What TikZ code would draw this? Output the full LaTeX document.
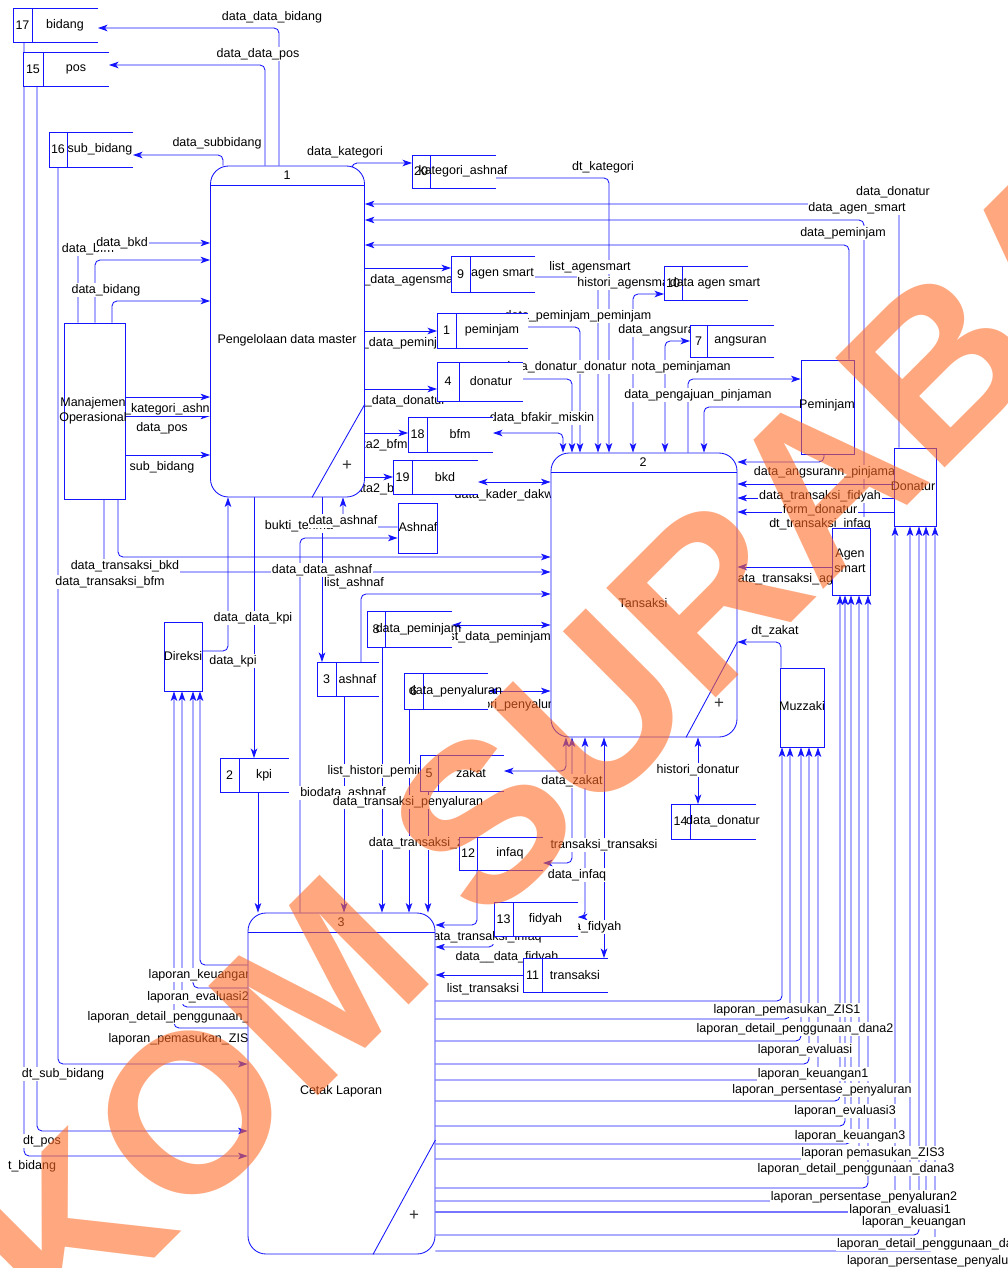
\documentclass[tikz,border=0pt]{standalone}
\usepackage{fontspec}
\setmainfont{Liberation Sans}
\usetikzlibrary{arrows.meta,calc}
\definecolor{lnblue}{RGB}{20,20,255}
\definecolor{wmc}{RGB}{255,105,35}
\newcommand\lblfont{\fontsize{12.5}{15.5}\selectfont}
\newcommand\wmfont{\fontsize{225}{225}\selectfont\bfseries}
\tikzset{
  >={Stealth[length=9.5pt,width=6.5pt,inset=2.5pt]},
  ln/.style={draw=lnblue, line width=0.85pt},
  fl/.style={ln, rounded corners=5pt, ->},
  bfl/.style={ln, rounded corners=5pt, <->},
  lbl/.style={fill=white, inner sep=0.8pt, font=\lblfont, text=black},
  txt/.style={inner sep=0pt, font=\lblfont, text=black, align=center},
  proc/.style={draw=lnblue, line width=0.85pt, fill=white, rounded corners=18pt, inner sep=0pt},
  ent/.style={draw=lnblue, line width=0.85pt, fill=white, inner sep=0pt},
  sbox/.style={fill=white, inner sep=0pt, outer sep=0pt},
  plus/.style={inner sep=0pt, font=\fontsize{17}{17}\selectfont, text=black!80},
  wmk/.style={inner sep=0pt, font=\wmfont, text=wmc, opacity=0.58}
}
\newcommand\mkstore[8]{%
  \node[sbox, minimum width={#3-#2}, minimum height={#6-#5}] (#1) at ({(#2+#3)/2},{(#5+#6)/2}) {};
  \draw[ln] (#1.north east) -- (#1.north west) -- (#1.south west) -- (#1.south east);
  \draw[ln] (#1.north -| #4,0) -- (#1.south -| #4,0);
  \node[txt] (#1n) at ({(#2+#4)/2},{(#5+#6)/2}) {#7};
  \node[txt] (#1t) at ({(#4+#3)/2},{(#5+#6)/2}) {#8};
}
\begin{document}
\begin{tikzpicture}[x=1pt,y=-1pt]
\useasboundingbox (0,0) rectangle (1008,1268);
\fill[white] (0,0) rectangle (1008,1268);

% ---------- shapes (positions only, drawn later) ----------
\begin{scope}[opacity=0]
\node[proc, minimum width=154, minimum height=331] (p1) at (287.5,331.5) {};
\node[proc, minimum width=186, minimum height=284] (p2) at (644,595) {};
\node[proc, minimum width=187, minimum height=341] (p3) at (341.5,1083.5) {};
\node[ent, minimum width=61, minimum height=176] (mo) at (94.5,411) {};
\node[ent, minimum width=53, minimum height=94] (pem) at (827.5,407) {};
\node[ent, minimum width=42, minimum height=78] (don) at (915,487) {};
\node[ent, minimum width=38, minimum height=67] (agen) at (851,561.5) {};
\node[ent, minimum width=44, minimum height=79] (muz) at (802,707.5) {};
\node[ent, minimum width=39, minimum height=50] (ash) at (417.5,528) {};
\node[ent, minimum width=38, minimum height=69] (dir) at (183,656.5) {};
\foreach \n/\a/\b/\c/\d in {s17/13/98/8/42, s15/23/109/52/86, s16/49/133/132/167, s20/412/496/155/188,
  s9/451/535/256/292, s10/664/748/266/300, s1/437/528/313/348, s7/690/774/325/357, s4/437/523/362/401,
  s18/408/493/417/452, s19/393/478/460/494, s8/367/452/611/647, s3/317/379/662/696, s6/404/488/673/709,
  s5/420/504/755/791, s2/220/289/758/792, s12/459/543/837/870, s13/494/578/902/936, s11/523/608/958/992,
  s14/671/756/804/839}
  {\node[sbox, minimum width={\b-\a}, minimum height={\d-\c}] (\n) at ({(\a+\b)/2},{(\c+\d)/2}) {};}
\end{scope}

% ---------- connectors ----------
\draw[fl] (p1.north -| 279,0) |- (s17.east |- 0,28);
\draw[fl] (p1.north -| 265,0) |- (s15.east |- 0,65);
\draw[fl] (p1.north -| 223,0) |- (s16.east |- 0,155);
\draw[fl] (p1.north -| 352,0) |- (s20.west |- 0,163);
\draw[fl] (s20.east |- 0,178) -| (p2.north -| 609,0);

\draw[fl] (don.north -| 899,0) |- (p1.east |- 0,204);
\draw[fl] (agen.north -| 864,0) |- (p1.east |- 0,220);
\draw[fl] (pem.north -| 849,0) |- (p1.east |- 0,245);

\draw[fl] (mo.north -| 78,0) |- (p1.west |- 0,243);
\draw[fl] (mo.north -| 95,0) |- (p1.west |- 0,260);
\draw[fl] (mo.north -| 112,0) |- (p1.west |- 0,301);
\draw[fl] (mo.east |- 0,397) -- (p1.west |- 0,397);
\draw[fl] (mo.east |- 0,416) -- (p1.west |- 0,416);
\draw[fl] (mo.east |- 0,455) -- (p1.west |- 0,455);
\draw[fl] (mo.south -| 118,0) |- (p2.west |- 0,557);
\draw[fl] (mo.south -| 104,0) |- (p2.west |- 0,572);

\draw[fl] (p1.east |- 0,268) -- (s9.west |- 0,268);
\draw[fl] (p1.east |- 0,331) -- (s1.west |- 0,331);
\draw[fl] (p1.east |- 0,389) -- (s4.west |- 0,389);
\draw[fl] (p1.east |- 0,433) -- (s18.west |- 0,433);
\draw[fl] (p1.east |- 0,477) -- (s19.west |- 0,477);

\draw[bfl] (s18.east |- 0,433) -| (p2.north -| 563,0);
\draw[fl] (s4.east |- 0,379) -| (p2.north -| 572,0);
\draw[fl] (s1.east |- 0,327) -| (p2.north -| 580,0);
\draw[fl] (s9.east |- 0,277) -| (p2.north -| 598,0);
\draw[bfl] (p2.north -| 633,0) |- (s10.west |- 0,294);
\draw[bfl] (p2.north -| 665,0) |- (s7.west |- 0,341);
\draw[fl] (p2.north -| 688,0) |- (pem.west |- 0,379);
\draw[fl] (pem.west |- 0,407) -| (p2.north -| 704,0);

\draw[fl] (pem.south -| 824,0) |- (p2.east |- 0,462);
\draw[fl] (don.west |- 0,484) -- (p2.east |- 0,484);
\draw[fl] (don.west |- 0,498) -- (p2.east |- 0,498);
\draw[fl] (don.west |- 0,512) -- (p2.east |- 0,512);
\draw[fl] (agen.west |- 0,567) -- (p2.east |- 0,567);
\draw[fl] (muz.north -| 781,0) |- (p2.east |- 0,642);

\draw[bfl] (s19.east |- 0,482) -- (p2.west |- 0,482);
\draw[fl] (s3.north -| 361,0) |- (p2.west |- 0,594);
\draw[bfl] (s8.east |- 0,625) -- (p2.west |- 0,625);
\draw[bfl] (s6.east |- 0,691) -- (p2.west |- 0,691);

\draw[bfl] (p2.south -| 566,0) |- (s5.east |- 0,771);
\draw[bfl] (p2.south -| 572,0) |- (s12.east |- 0,863);
\draw[bfl] (p2.south -| 585,0) |- (s13.east |- 0,917);
\draw[bfl] (s11.north -| 604,0) -- (p2.south -| 604,0);
\draw[bfl] (p2.south -| 698,0) -- (s14.north -| 698,0);

\draw[fl] (dir.east |- 0,651) -| (p1.south -| 228,0);
\draw[fl] (p1.south -| 254,0) -- (s2.north -| 254,0);
\draw[fl] (p1.south -| 322,0) -- (s3.north -| 322,0);
\draw[fl] (ash.west |- 0,527) -| (p1.south -| 343,0);
\draw[fl] (p3.north -| 300,0) |- (ash.west |- 0,538);

\draw[fl] (s2.south -| 258,0) -- (p3.north -| 258,0);
\draw[fl] (s3.south -| 344,0) -- (p3.north -| 344,0);
\draw[fl] (s8.south -| 382,0) -- (p3.north -| 382,0);
\draw[fl] (s6.south -| 409,0) -- (p3.north -| 409,0);
\draw[fl] (s5.south -| 428,0) -- (p3.north -| 428,0);

\draw[fl] (s12.south -| 477,0) |- (p3.east |- 0,925);
\draw[fl] (s13.south west) |- (p3.east |- 0,947);
\draw[fl] (s11.west) -- (p3.east |- s11.west);

\draw[fl] (s16.south -| 58,0) |- (p3.west |- 0,1064);
\draw[fl] (s15.south -| 37,0) |- (p3.west |- 0,1131);
\draw[fl] (s17.south -| 24,0) |- (p3.west |- 0,1156);
\draw[fl] (p3.west |- 0,965) -| (dir.south -| 200,0);
\draw[fl] (p3.west |- 0,988) -| (dir.south -| 193,0);
\draw[fl] (p3.west |- 0,1007) -| (dir.south -| 182,0);
\draw[fl] (p3.west |- 0,1028) -| (dir.south -| 174,0);

\foreach \yy/\xx/\ee in {1001/782/muz,1019/790/muz,1041/801/muz,1064/809/muz,1080/818/muz,
   1101/840/agen,1126/845/agen,1144/851/agen,1159/859/agen,1188/868/agen,
   1201/895/don,1212/910/don,1212/926/don,1235/919/don,1251/935/don}
  \draw[fl] (p3.east |- 0,\yy) -| (\ee.south -| \xx,0);

% ---------- labels ----------
\node[lbl] (L1) at (272,17) {data\_data\_bidang};
\node[lbl] (L2) at (258,54) {data\_data\_pos};
\node[lbl] (L3) at (217,143) {data\_subbidang};
\node[lbl] (L4) at (345,152) {data\_kategori};
\node[lbl] (L5) at (603,167) {dt\_kategori};
\node[lbl] (L6) at (893,192) {data\_donatur};
\node[lbl] (L7) at (857,208) {data\_agen\_smart};
\node[lbl] (L8) at (843,233) {data\_peminjam};
\node[lbl] (L9) at (88,249) {data\_bfm};
\node[lbl] (L10) at (122,243) {data\_bkd};
\node[lbl] (L11) at (106,290) {data\_bidang};
\node[lbl] (L12) at (160,409) {data\_kategori\_ashnaf};
\node[lbl] (L13) at (162,428) {data\_pos};
\node[lbl] (L14) at (162,467) {sub\_bidang};
\node[lbl] (L15) at (400,280) {data\_data\_agensmart};
\node[lbl] (L16) at (396,343) {data\_data\_peminjam};
\node[lbl] (L17) at (393,401) {data\_data\_donatur};
\node[lbl] (L18) at (378,445) {data2\_bfm};
\node[lbl] (L19) at (378,489) {data2\_bkd};
\node[lbl] (L20) at (542,418) {data\_bfakir\_miskin};
\node[lbl] (L21) at (565,367) {data\_donatur\_donatur};
\node[lbl] (L22) at (578,316) {data\_peminjam\_peminjam};
\node[lbl] (L23) at (590,267) {list\_agensmart};
\node[lbl] (L24) at (627,283) {histori\_agensmart};
\node[lbl] (L25) at (660,330) {data\_angsuran};
\node[lbl] (L26) at (681,367) {nota\_peminjaman};
\node[lbl] (L27) at (698,395) {data\_pengajuan\_pinjaman};
\node[lbl] (L28) at (511,495) {data\_kader\_dakwah};
\node[lbl] (L29) at (299,526) {bukti\_terima};
\node[lbl] (L30) at (343,521) {data\_ashnaf};
\node[lbl] (L31) at (125,566) {data\_transaksi\_bkd};
\node[lbl] (L32) at (322,570) {data\_data\_ashnaf};
\node[lbl] (L33) at (110,582) {data\_transaksi\_bfm};
\node[lbl] (L34) at (354,583) {list\_ashnaf};
\node[lbl] (L35) at (253,618) {data\_data\_kpi};
\node[lbl] (L36) at (233,661) {data\_kpi};
\node[lbl] (L37) at (497,637) {list\_data\_peminjam};
\node[lbl] (L38) at (515,705) {histori\_penyaluran};
\node[lbl] (L39) at (386,771) {list\_histori\_peminjam};
\node[lbl] (L40) at (343,793) {biodata\_ashnaf};
\node[lbl] (L41) at (408,802) {data\_transaksi\_penyaluran};
\node[lbl] (L42) at (428,843) {data\_transaksi\_zakat};
\node[lbl] (L43) at (572,781) {data\_zakat};
\node[lbl] (L44) at (604,845) {transaksi\_transaksi};
\node[lbl] (L45) at (577,875) {data\_infaq};
\node[lbl] (L46) at (589,927) {data\_fidyah};
\node[lbl] (L47) at (484,937) {data\_transaksi\_infaq};
\node[lbl] (L48) at (507,957) {data\_\_data\_fidyah};
\node[lbl] (L49) at (483,989) {list\_transaksi};
\node[lbl] (L50) at (698,770) {histori\_donatur};
\node[lbl] (L51) at (775,631) {dt\_zakat};
\node[lbl] (L52) at (789,579) {data\_transaksi\_agen};
\node[lbl] (L53) at (828,472) {data\_angsurann\_pinjaman};
\node[lbl] (L54) at (820,496) {data\_transaksi\_fidyah};
\node[lbl] (L55) at (820,510) {form\_donatur};
\node[lbl] (L56) at (820,524) {dt\_transaksi\_infaq};
\node[lbl] (L57) at (204,975) {laporan\_keuangan2};
\node[lbl] (L58) at (198,997) {laporan\_evaluasi2};
\node[lbl] (L59) at (186,1017) {laporan\_detail\_penggunaan\_dana1};
\node[lbl] (L60) at (182,1039) {laporan\_pemasukan\_ZIS2};
\node[lbl] (L61) at (63,1074) {dt\_sub\_bidang};
\node[lbl] (L62) at (42,1141) {dt\_pos};
\node[lbl, anchor=east] (L63) at (57,1166) {t\_bidang};
\node[lbl] (L64) at (787,1010) {laporan\_pemasukan\_ZIS1};
\node[lbl] (L65) at (795,1029) {laporan\_detail\_penggunaan\_dana2};
\node[lbl] (L66) at (805,1050) {laporan\_evaluasi};
\node[lbl] (L67) at (813,1074) {laporan\_keuangan1};
\node[lbl] (L68) at (822,1090) {laporan\_persentase\_penyaluran};
\node[lbl] (L69) at (845,1111) {laporan\_evaluasi3};
\node[lbl] (L70) at (850,1136) {laporan\_keuangan3};
\node[lbl] (L71) at (873,1153) {laporan pemasukan\_ZIS3};
\node[lbl] (L72) at (856,1169) {laporan\_detail\_penggunaan\_dana3};
\node[lbl] (L73) at (864,1197) {laporan\_persentase\_penyaluran2};
\node[lbl] (L74) at (900,1210) {laporan\_evaluasi1};
\node[lbl] (L75) at (914,1222) {laporan\_keuangan};
\node[lbl, anchor=west] (L76) at (836,1244) {laporan\_detail\_penggunaan\_dana};
\node[lbl, anchor=west] (L77) at (846,1261) {laporan\_persentase\_penyaluran3};

% ---------- processes ----------
\node[proc, minimum width=154, minimum height=331] (P1) at (p1) {};
\draw[ln] (P1.west |- 0,185) -- (P1.east |- 0,185);
\draw[ln] (P1.south -| 312,0) -- (P1.east |- 0,404);
\node[txt] (P1n) at (287,175) {1};
\node[txt] (P1t) at (287,340) {Pengelolaan data master};
\node[plus] (P1p) at (347,466) {+};

\node[proc, minimum width=186, minimum height=284] (P2) at (p2) {};
\draw[ln] (P2.west |- 0,472) -- (P2.east |- 0,472);
\draw[ln] (P2.south -| 686,0) -- (P2.east |- 0,642);
\node[txt] (P2n) at (643,462) {2};
\node[txt] (P2t) at (643,603) {Tansaksi};
\node[plus] (P2p) at (719,704) {+};

\node[proc, minimum width=187, minimum height=341] (P3) at (p3) {};
\draw[ln] (P3.west |- 0,932) -- (P3.east |- 0,932);
\draw[ln] (P3.south -| 373,0) -- (P3.east |- 0,1140);
\node[txt] (P3n) at (341,922) {3};
\node[txt] (P3t) at (341,1091) {Cetak Laporan};
\node[plus] (P3p) at (414,1216) {+};

% ---------- entities ----------
\node[ent, minimum width=61, minimum height=176] (MO) at (mo) {};
\node[txt] (MOt) at (93,411) {Manajemen\\Operasional};
\node[ent, minimum width=53, minimum height=94] (PEM) at (pem) {};
\node[txt] (PEMt) at (827,405) {Peminjam};
\node[ent, minimum width=42, minimum height=78] (DON) at (don) {};
\node[txt] (DONt) at (913,486) {Donatur};
\node[ent, minimum width=38, minimum height=67] (AGEN) at (agen) {};
\node[txt] (AGENt) at (850,561) {Agen\\smart};
\node[ent, minimum width=44, minimum height=79] (MUZ) at (muz) {};
\node[txt] (MUZt) at (802,706) {Muzzaki};
\node[ent, minimum width=39, minimum height=50] (ASH) at (ash) {};
\node[txt] (ASHt) at (418,527) {Ashnaf};
\node[ent, minimum width=38, minimum height=69] (DIR) at (dir) {};
\node[txt] (DIRt) at (183,656) {Direksi};

% ---------- data stores ----------
\mkstore{S17}{13}{98}{32}{8}{42}{17}{bidang}
\mkstore{S15}{23}{109}{43}{52}{86}{15}{pos}
\mkstore{S16}{49}{133}{67}{132}{167}{16}{sub\_bidang}
\mkstore{S20}{412}{496}{430}{155}{188}{20}{kategori\_ashnaf}
\mkstore{S9}{451}{535}{470}{256}{292}{9}{agen smart}
\mkstore{S10}{664}{748}{682}{266}{300}{10}{data agen smart}
\mkstore{S1}{437}{528}{456}{313}{348}{1}{peminjam}
\mkstore{S7}{690}{774}{707}{325}{357}{7}{angsuran}
\mkstore{S4}{437}{523}{459}{362}{401}{4}{donatur}
\mkstore{S18}{408}{493}{427}{417}{452}{18}{bfm}
\mkstore{S19}{393}{478}{412}{460}{494}{19}{bkd}
\mkstore{S8}{367}{452}{385}{611}{647}{8}{data\_peminjam}
\mkstore{S3}{317}{379}{336}{662}{696}{3}{ashnaf}
\mkstore{S6}{404}{488}{423}{673}{709}{6}{data\_penyaluran}
\mkstore{S5}{420}{504}{438}{755}{791}{5}{zakat}
\mkstore{S2}{220}{289}{239}{758}{792}{2}{kpi}
\mkstore{S12}{459}{543}{477}{837}{870}{12}{infaq}
\mkstore{S13}{494}{578}{513}{902}{936}{13}{fidyah}
\mkstore{S11}{523}{608}{542}{958}{992}{11}{transaksi}
\mkstore{S14}{671}{756}{690}{804}{839}{14}{data\_donatur}

% ---------- watermark ----------
\node[wmk, rotate=45] (WM) at (658,646) {KOM SURABAYA};
\end{tikzpicture}
\end{document}
